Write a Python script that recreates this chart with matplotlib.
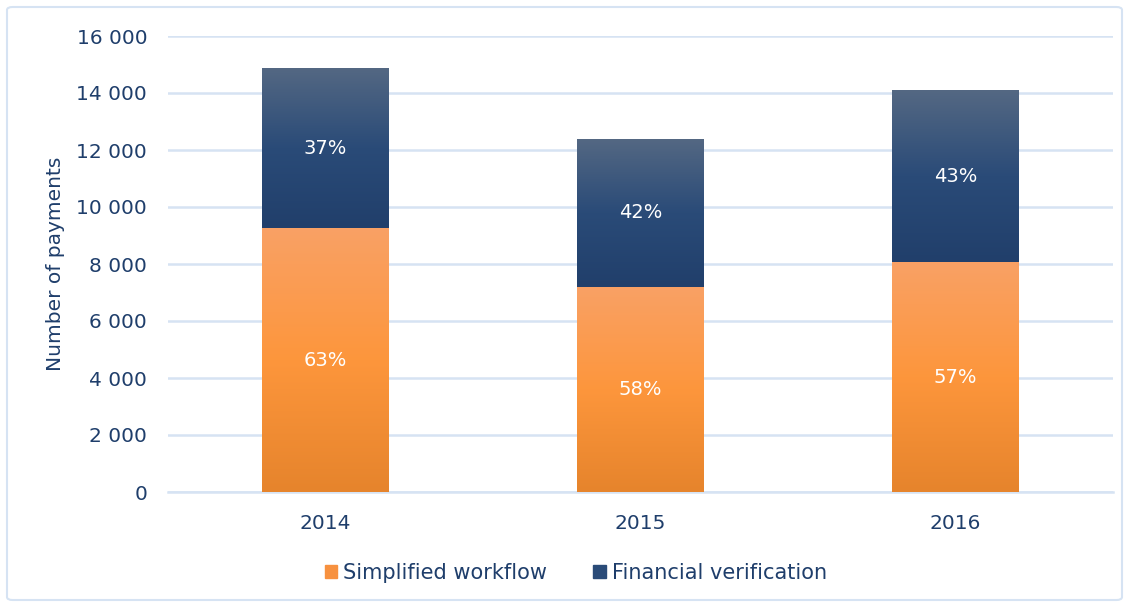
import numpy as np
import matplotlib
matplotlib.use("Agg")
import matplotlib.pyplot as plt
from matplotlib.colors import LinearSegmentedColormap
from matplotlib.patches import FancyBboxPatch, Rectangle

years = ["2014", "2015", "2016"]
simplified = [9260, 7190, 8070]
financial = [5620, 5200, 6030]
simplified_pct = ["63%", "58%", "57%"]
financial_pct = ["37%", "42%", "43%"]
series_names = ["Simplified workflow", "Financial verification"]

text_col = "#1F3E6B"
grid_col = "#D6E3F3"

orange_cmap = LinearSegmentedColormap.from_list("o", ["#E6842C", "#FD963C", "#F9A165"])
blue_cmap = LinearSegmentedColormap.from_list("b", ["#213F6B", "#2A4B78", "#546883"])

plt.rcParams['font.family'] = ['DejaVu Sans']

fig = plt.figure(figsize=(11.29, 6.07), dpi=100)
ax = fig.add_axes([168/1129, 1-492/607, 945/1129, 456/607])

x = np.arange(len(years))
w = 0.403

def grad_bar(bars, cmap):
    for b in bars:
        x0, y0 = b.get_x(), b.get_y()
        bw, bh = b.get_width(), b.get_height()
        g = np.linspace(0, 1, 256).reshape(-1, 1)
        im = ax.imshow(g, cmap=cmap, origin="lower", aspect="auto",
                       extent=[x0, x0+bw, y0, y0+bh], zorder=3)
        im.set_clip_path(b)
        b.set_facecolor("none")

b1 = ax.bar(x, simplified, w, color="#FD963C", zorder=2, linewidth=0)
b2 = ax.bar(x, financial, w, bottom=simplified, color="#2A4B78", zorder=2, linewidth=0)
grad_bar(b1, orange_cmap)
grad_bar(b2, blue_cmap)

for i in range(len(years)):
    ax.text(x[i], simplified[i]/2, simplified_pct[i], ha="center", va="center",
            color="white", fontsize=14, zorder=5)
    ax.text(x[i], simplified[i] + financial[i]/2, financial_pct[i], ha="center",
            va="center", color="white", fontsize=14, zorder=5)

ax.set_xlim(-0.5, 2.5)
ax.set_ylim(0, 16000)
ax.set_yticks(np.arange(0, 16001, 2000))
ax.set_yticklabels([f"{v:,}".replace(",", " ") for v in range(0, 16001, 2000)])
ax.set_xticks(x)
ax.set_xticklabels(years)
ax.yaxis.grid(True, color=grid_col, linewidth=1.8, zorder=0)
ax.set_axisbelow(True)
for s in ["top", "right", "left"]:
    ax.spines[s].set_visible(False)
ax.spines["bottom"].set_color(grid_col)
ax.spines["bottom"].set_linewidth(1.8)
ax.tick_params(length=0, labelsize=14.5, labelcolor=text_col)
ax.tick_params(axis="y", pad=15)
ax.tick_params(axis="x", pad=16)
ax.set_ylabel("Number of payments", fontsize=14.5, color=text_col, labelpad=8)

handles = [Rectangle((0, 0), 1, 1, color="#F7913F"), Rectangle((0, 0), 1, 1, color="#2A4B78")]
leg = fig.legend(handles, series_names, loc="center", bbox_to_anchor=(0.51, 1-573/607),
                 ncol=2, frameon=False, fontsize=15, handlelength=0.6, handleheight=0.6,
                 handletextpad=0.3, columnspacing=2.2)
for t in leg.get_texts():
    t.set_color(text_col)

fig.patches.append(FancyBboxPatch((7/1129, 7/607), 1-14/1129, 1-14/607,
                                  boxstyle="round,pad=0,rounding_size=0.005",
                                  transform=fig.transFigure, fill=False,
                                  edgecolor="#D6E3F3", linewidth=1.5))

fig.savefig("out.png", dpi=100)
